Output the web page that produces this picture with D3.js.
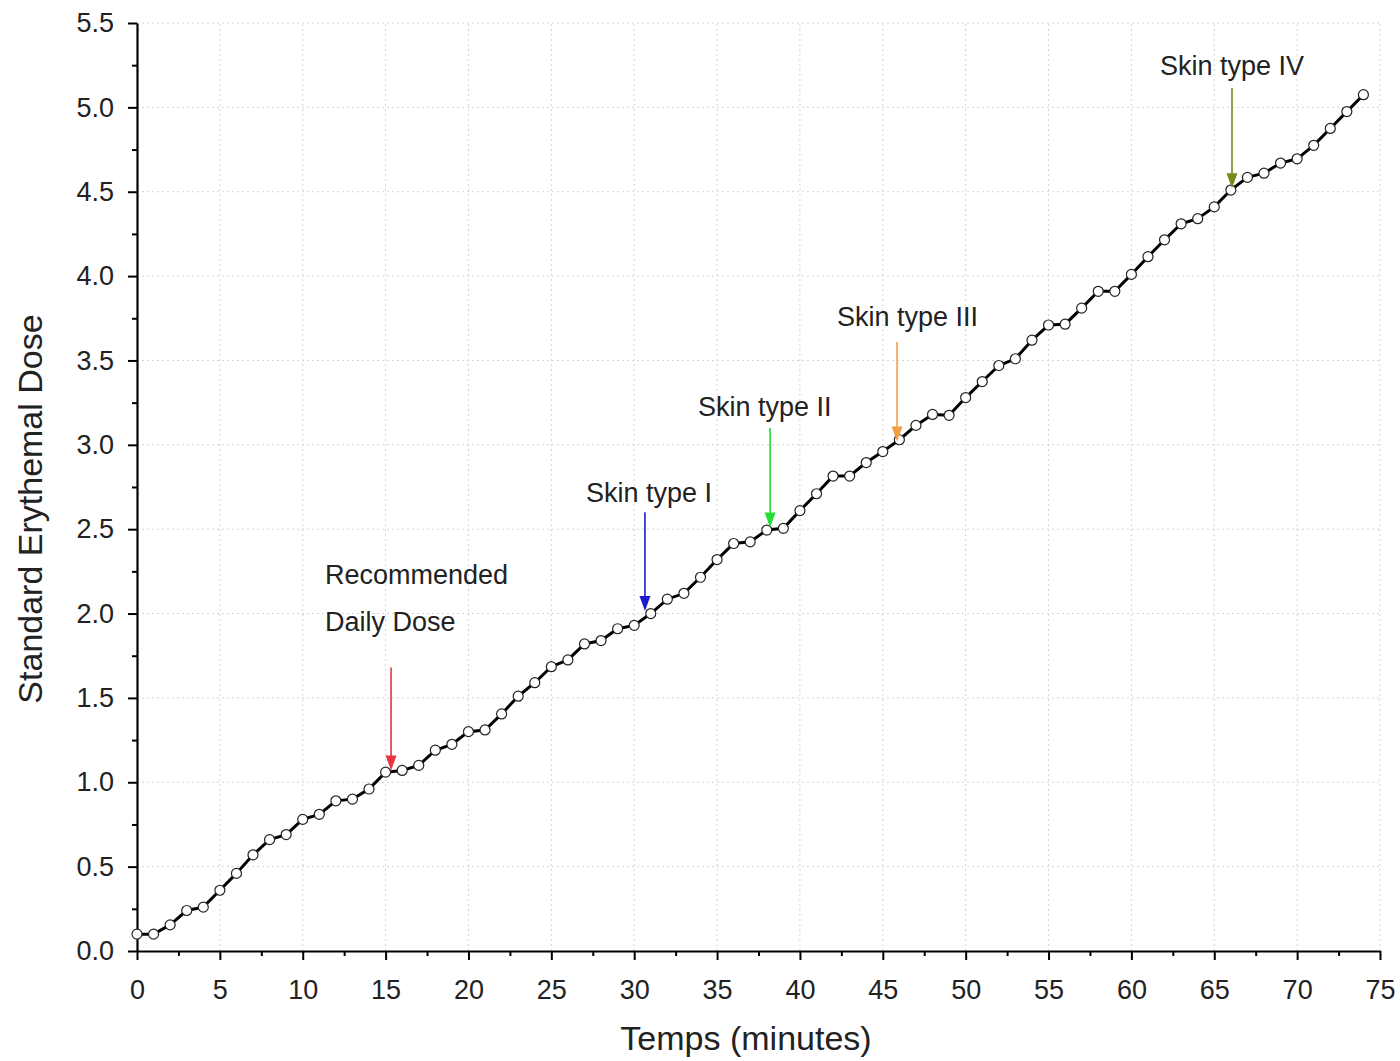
<!DOCTYPE html>
<html>
<head>
<meta charset="utf-8">
<script src="https://cdn.jsdelivr.net/npm/d3@7"></script>
<style>
  html, body { margin: 0; padding: 0; background: #fff; }
  svg { display: block; font-family: "Liberation Sans", Arial, sans-serif; }
</style>
</head>
<body>
<svg id="chart" width="1400" height="1061"></svg>
<script>
// ---- Data ----
const minutes = d3.range(0, 75); // 0..74
const doseValues = [
  0.10, 0.10, 0.155, 0.24, 0.26, 0.36, 0.46, 0.57, 0.66, 0.69,
  0.78, 0.81, 0.89, 0.90, 0.96, 1.06, 1.07, 1.10, 1.19, 1.225,
  1.30, 1.31, 1.405, 1.51, 1.59, 1.685, 1.725, 1.82, 1.84, 1.91,
  1.93, 2.00, 2.085, 2.12, 2.215, 2.32, 2.415, 2.425, 2.495, 2.505,
  2.61, 2.71, 2.815, 2.815, 2.895, 2.96, 3.03, 3.115, 3.18, 3.175,
  3.28, 3.375, 3.47, 3.51, 3.62, 3.71, 3.715, 3.81, 3.91, 3.91,
  4.01, 4.115, 4.215, 4.31, 4.34, 4.41, 4.51, 4.585, 4.61, 4.67,
  4.695, 4.775, 4.875, 4.975, 5.075
];
const xTicks = [0, 5, 10, 15, 20, 25, 30, 35, 40, 45, 50, 55, 60, 65, 70, 75];
const yTicks = [0, 0.5, 1.0, 1.5, 2.0, 2.5, 3.0, 3.5, 4.0, 4.5, 5.0, 5.5];

const annotLabels = ["Recommended|Daily Dose", "Skin type I", "Skin type II", "Skin type III", "Skin type IV"];
const annotX      = [15.33, 30.65, 38.2, 45.86, 66.07];
const annotFrom   = [1.68, 2.60, 3.10, 3.61, 5.115];
const annotTo     = [1.07, 2.015, 2.51, 3.02, 4.52];
const annotColors = ["#e8343f", "#1a1ad0", "#22dd33", "#f0a040", "#7a8a1a"];

// ---- Layout ----
const svg = d3.select("#chart");
const x = d3.scaleLinear().domain([0, 75]).range([137, 1380]);
const y = d3.scaleLinear().domain([0, 5.5]).range([951, 23]);
const FONT = "Liberation Sans, Arial, sans-serif";

// grid
const grid = svg.append("g");
grid.selectAll("line.vg").data(xTicks.filter(t => t > 0)).join("line")
  .attr("x1", d => x(d)).attr("x2", d => x(d))
  .attr("y1", y(0)).attr("y2", y(5.5))
  .attr("stroke", "#d4d4d4").attr("stroke-width", 1).attr("stroke-dasharray", "2,3");
grid.selectAll("line.hg").data(yTicks.filter(t => t > 0)).join("line")
  .attr("x1", x(0)).attr("x2", x(75))
  .attr("y1", d => y(d)).attr("y2", d => y(d))
  .attr("stroke", "#d4d4d4").attr("stroke-width", 1).attr("stroke-dasharray", "2,3");

// axes
const xMinor = d3.range(0, 75.01, 2.5).filter(v => v % 5 !== 0);
const yMinor = d3.range(0, 5.51, 0.25).filter(v => Math.abs((v / 0.5) - Math.round(v / 0.5)) > 1e-6);

const xAxis = svg.append("g").attr("transform", `translate(0,${y(0)})`)
  .call(d3.axisBottom(x).tickValues(xTicks).tickFormat(d3.format("d")).tickSize(9).tickPadding(20).tickSizeOuter(0));
xAxis.select(".domain").attr("stroke-width", 2.2);
xAxis.selectAll(".tick line").attr("stroke-width", 2);
xAxis.selectAll("text").attr("font-size", 27).attr("fill", "#222").attr("font-family", FONT);
svg.append("g").attr("transform", `translate(0,${y(0)})`)
  .call(d3.axisBottom(x).tickValues(xMinor).tickFormat("").tickSize(5).tickSizeOuter(0))
  .call(g => g.select(".domain").remove())
  .selectAll(".tick line").attr("stroke-width", 2);

const yAxis = svg.append("g").attr("transform", `translate(${x(0)},0)`)
  .call(d3.axisLeft(y).tickValues(yTicks).tickFormat(d3.format(".1f")).tickSize(9).tickPadding(14).tickSizeOuter(0));
yAxis.select(".domain").attr("stroke-width", 2.2);
yAxis.selectAll(".tick line").attr("stroke-width", 2);
yAxis.selectAll("text").attr("font-size", 27).attr("fill", "#222").attr("font-family", FONT);
svg.append("g").attr("transform", `translate(${x(0)},0)`)
  .call(d3.axisLeft(y).tickValues(yMinor).tickFormat("").tickSize(5).tickSizeOuter(0))
  .call(g => g.select(".domain").remove())
  .selectAll(".tick line").attr("stroke-width", 2);

// axis titles
svg.append("text").attr("x", 746).attr("y", 1050).attr("text-anchor", "middle")
  .attr("font-size", 34).attr("fill", "#222").text("Temps (minutes)");
svg.append("text").attr("transform", `translate(42,509) rotate(-90)`).attr("text-anchor", "middle")
  .attr("font-size", 34).attr("fill", "#222").text("Standard Erythemal Dose");

// data line
const pts = minutes.map((m, i) => [m, doseValues[i]]);
svg.append("path").datum(pts)
  .attr("d", d3.line().x(d => x(d[0])).y(d => y(d[1])))
  .attr("fill", "none").attr("stroke", "#000").attr("stroke-width", 3);
svg.append("g").selectAll("circle").data(pts).join("circle")
  .attr("cx", d => x(d[0])).attr("cy", d => y(d[1])).attr("r", 5)
  .attr("fill", "#fff").attr("stroke", "#222").attr("stroke-width", 1.2);

// annotations
const ann = svg.append("g");
annotLabels.forEach((lab, i) => {
  const ax = x(annotX[i]);
  const y0 = y(annotFrom[i]);
  const y1 = y(annotTo[i]);
  const col = annotColors[i];
  ann.append("line").attr("x1", ax).attr("x2", ax).attr("y1", y0).attr("y2", y1 - 12)
    .attr("stroke", col).attr("stroke-width", 1.6);
  ann.append("path")
    .attr("d", `M${ax - 5.5},${y1 - 15} L${ax + 5.5},${y1 - 15} L${ax},${y1} Z`)
    .attr("fill", col);
});
// labels
const lines0 = annotLabels[0].split("|");
ann.append("text").attr("x", 325).attr("y", 584).attr("font-size", 27).attr("fill", "#222").text(lines0[0]);
ann.append("text").attr("x", 325).attr("y", 631).attr("font-size", 27).attr("fill", "#222").text(lines0[1]);
const labelPos = [null, [586, 502], [698, 416], [837, 326], [1160, 75]];
for (let i = 1; i < annotLabels.length; i++) {
  ann.append("text").attr("x", labelPos[i][0]).attr("y", labelPos[i][1])
    .attr("font-size", 27).attr("fill", "#222").text(annotLabels[i]);
}
</script>
</body>
</html>
